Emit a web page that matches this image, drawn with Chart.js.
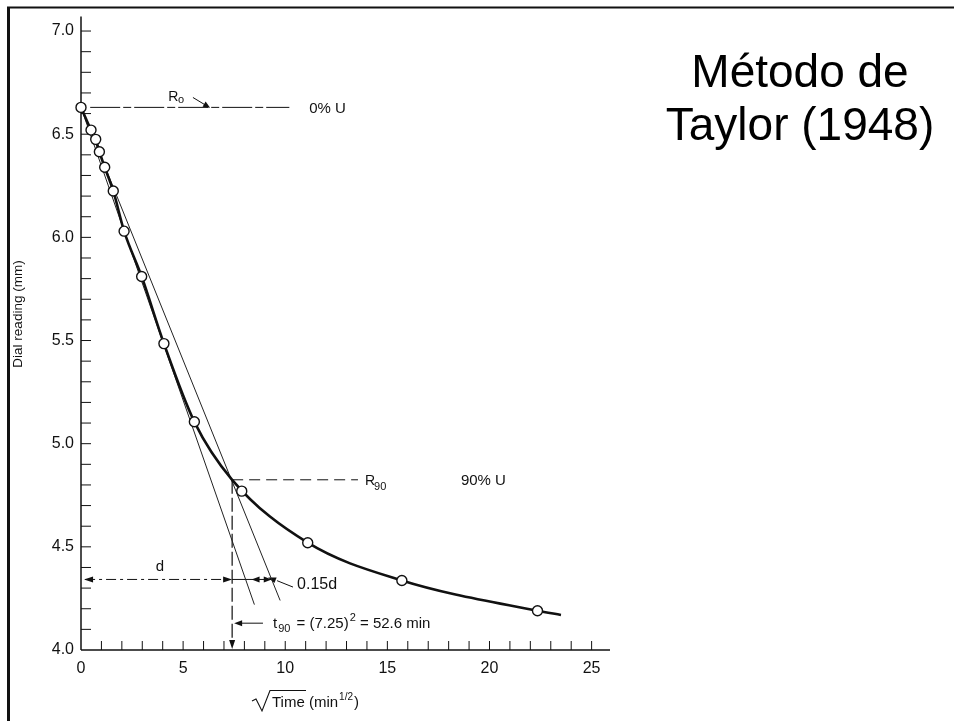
<!DOCTYPE html>
<html><head><meta charset="utf-8">
<script src="https://cdn.jsdelivr.net/npm/chart.js@4/dist/chart.umd.min.js"></script>
<style>html,body{margin:0;padding:0;background:#fff;overflow:hidden}canvas{display:block}</style>
</head><body>
<canvas id="c" width="954" height="721"></canvas>
<script>
// ---- data ----
const sqrtTime    = [0, 0.49, 0.72, 0.90, 1.16, 1.58, 2.11, 2.97, 4.06, 5.55, 7.87, 11.10, 15.71, 22.35];
const dialReading = [6.63, 6.52, 6.475, 6.415, 6.34, 6.225, 6.03, 5.81, 5.485, 5.106, 4.77, 4.52, 4.337, 4.19];
const curveSqrtTime = [0, 0.49, 0.72, 0.90, 1.16, 1.58, 2.11, 2.97, 4.06, 5.55, 7.40, 11.10, 15.71, 22.35, 23.5];
const curveReading  = [6.63, 6.52, 6.475, 6.415, 6.34, 6.225, 6.03, 5.81, 5.485, 5.106, 4.825, 4.52, 4.337, 4.19, 4.17];
const tangentX = [0, 8.49];
const tangentY = [6.63, 4.22];
const offsetX  = [0, 9.75];
const offsetY  = [6.63, 4.24];
const yLabels = [4.0, 4.5, 5.0, 5.5, 6.0, 6.5, 7.0];
const xLabels = [0, 5, 10, 15, 20, 25];
const R0 = 6.63, R90 = 4.825, ROOT_T90 = 7.4, D_LEVEL = 4.342;

const FONT = '"Liberation Sans", Arial, Helvetica, sans-serif';
const INK = '#111';

function pts(xs, ys){ return xs.map((x,i)=>({x:x, y:ys[i]})); }

function arrowHead(ctx, x1, y1, x2, y2, len, wid){
  const a = Math.atan2(y2-y1, x2-x1);
  ctx.save();
  ctx.translate(x2, y2); ctx.rotate(a);
  ctx.beginPath();
  ctx.moveTo(0,0); ctx.lineTo(-len, -wid); ctx.lineTo(-len, wid); ctx.closePath();
  ctx.fill();
  ctx.restore();
}
function line(ctx, x1,y1,x2,y2, w, dash){
  ctx.save();
  ctx.lineWidth = w; ctx.setLineDash(dash || []);
  ctx.beginPath(); ctx.moveTo(x1,y1); ctx.lineTo(x2,y2); ctx.stroke();
  ctx.restore();
}

const decor = {
  id: 'decor',
  beforeDatasetsDraw(chart){
    const ctx = chart.ctx;
    const xs = chart.scales.x, ys = chart.scales.y;
    const px = v => xs.getPixelForValue(v), py = v => ys.getPixelForValue(v);
    const ca = chart.chartArea;
    ctx.save();
    ctx.strokeStyle = INK; ctx.fillStyle = INK;

    // frame (top + left)
    line(ctx, 7, 7.5, 954, 7.5, 2);
    line(ctx, 8.5, 7, 8.5, 721, 3);

    // axes
    line(ctx, ca.left, ca.top, ca.left, ca.bottom, 1.5);
    line(ctx, ca.left, ca.bottom, ca.right, ca.bottom, 1.5);
    for (let k = 41; k <= 70; k++){
      const y = py(k/10);
      line(ctx, ca.left, y, ca.left + 10, y, 1);
    }
    for (let k = 1; k <= 25; k++){
      const x = px(k);
      line(ctx, x, ca.bottom, x, ca.bottom - 9, 1);
    }

    // R0 line and label
    line(ctx, px(0.45), py(R0), px(10.2), py(R0), 1, [30,3,8,3]);
    ctx.font = '14px ' + FONT; ctx.textBaseline = 'alphabetic'; ctx.textAlign = 'left';
    ctx.fillText('R', px(4.27), py(6.663));
    ctx.font = '11px ' + FONT;
    ctx.fillText('o', px(4.75), py(6.653));
    line(ctx, px(5.48), py(6.678), px(6.18), py(6.636), 1);
    arrowHead(ctx, px(5.48), py(6.678), px(6.32), py(6.628), 7, 3);
    ctx.font = '15px ' + FONT;
    ctx.fillText('0% U', px(11.17), py(6.601));

    // R90 line and labels
    line(ctx, px(ROOT_T90), py(R90), px(13.56), py(R90), 1, [11,6]);
    ctx.font = '14px ' + FONT;
    ctx.fillText('R', px(13.9), py(R90) + 5);
    ctx.font = '11px ' + FONT;
    ctx.fillText('90', px(14.35), py(R90) + 10);
    ctx.font = '15px ' + FONT;
    ctx.fillText('90% U', px(18.6), py(R90) + 5);

    // vertical line at sqrt(t90)
    line(ctx, px(ROOT_T90), py(R90), px(ROOT_T90), py(4.0) - 8, 1.2, [14,4]);
    arrowHead(ctx, px(ROOT_T90), py(4.2), px(ROOT_T90), py(4.0) - 1, 9, 3);

    // d arrow
    line(ctx, px(0.2), py(D_LEVEL), px(ROOT_T90), py(D_LEVEL), 1, [10,4,3,4]);
    arrowHead(ctx, px(2), py(D_LEVEL), px(0.15), py(D_LEVEL), 9, 3);
    arrowHead(ctx, px(5), py(D_LEVEL), px(ROOT_T90), py(D_LEVEL), 9, 3);
    ctx.font = '15px ' + FONT; ctx.textAlign = 'center';
    ctx.fillText('d', px(3.87), py(4.385));
    ctx.textAlign = 'left';

    // 0.15d segment
    line(ctx, px(ROOT_T90), py(D_LEVEL), px(9.34), py(D_LEVEL), 1);
    arrowHead(ctx, px(9.3), py(D_LEVEL), px(8.35), py(D_LEVEL), 8, 3);
    arrowHead(ctx, px(8.5), py(D_LEVEL), px(9.34), py(D_LEVEL), 8, 3);
    line(ctx, px(10.38), py(4.305), px(9.6), py(4.336), 1);
    arrowHead(ctx, px(10.38), py(4.305), px(9.16), py(4.352), 8, 3);
    ctx.font = '16px ' + FONT;
    ctx.fillText('0.15d', px(10.58), py(4.295));

    // t90 arrow and text
    line(ctx, px(8.91), py(4.13), px(7.7), py(4.13), 1);
    arrowHead(ctx, px(8.91), py(4.13), px(ROOT_T90) + 2, py(4.13), 8, 3);
    let tx = px(9.4), tb = py(4.105);
    ctx.font = '15px ' + FONT;
    ctx.fillText('t', tx, tb); tx += ctx.measureText('t').width + 1;
    ctx.font = '11px ' + FONT;
    ctx.fillText('90', tx, tb + 4); tx += ctx.measureText('90').width + 2;
    ctx.font = '15px ' + FONT;
    ctx.fillText(' = (7.25)', tx, tb); tx += ctx.measureText(' = (7.25)').width + 1;
    ctx.font = '11px ' + FONT;
    ctx.fillText('2', tx, tb - 7); tx += ctx.measureText('2').width;
    ctx.font = '15px ' + FONT;
    ctx.fillText(' = 52.6 min', tx, tb);

    // y-axis title
    ctx.save();
    ctx.translate(18, 314); ctx.rotate(-Math.PI/2);
    ctx.font = '13.5px ' + FONT; ctx.textAlign = 'center'; ctx.textBaseline = 'middle';
    ctx.fillText('Dial reading (mm)', 0, 0);
    ctx.restore();

    // x-axis title with radical sign
    ctx.save();
    ctx.lineWidth = 1.1;
    ctx.beginPath();
    ctx.moveTo(252, 701); ctx.lineTo(256, 699); ctx.lineTo(262, 711); ctx.lineTo(270, 690.5); ctx.lineTo(306, 690.5);
    ctx.stroke();
    ctx.restore();
    let ax = 272, ab = 707;
    ctx.font = '15px ' + FONT; ctx.textAlign = 'left'; ctx.textBaseline = 'alphabetic';
    ctx.fillText('Time (min', ax, ab); ax += ctx.measureText('Time (min').width + 1;
    ctx.font = '10px ' + FONT;
    ctx.fillText('1/2', ax, ab - 7); ax += ctx.measureText('1/2').width + 1;
    ctx.font = '15px ' + FONT;
    ctx.fillText(')', ax, ab);

    // title
    ctx.font = '46px ' + FONT; ctx.textAlign = 'center';
    ctx.fillStyle = '#000';
    ctx.fillText('Método de', 800, 87);
    ctx.fillText('Taylor (1948)', 800, 140);

    ctx.restore();
  }
};

new Chart(document.getElementById('c'), {
  type: 'scatter',
  data: {
    datasets: [
      { label: 'readings', data: pts(sqrtTime, dialReading), order: 0, showLine: false, clip: false,
        pointRadius: 5, pointBackgroundColor: '#fff', pointBorderColor: INK, pointBorderWidth: 1.4 },
      { label: 'curve', data: pts(curveSqrtTime, curveReading), order: 1, showLine: true,
        borderColor: INK, borderWidth: 2.6, pointRadius: 0, cubicInterpolationMode: 'monotone', fill: false },
      { label: 'tangent', data: pts(tangentX, tangentY), order: 2, showLine: true,
        borderColor: '#222', borderWidth: 1, pointRadius: 0 },
      { label: 'offset', data: pts(offsetX, offsetY), order: 2, showLine: true,
        borderColor: '#222', borderWidth: 1, pointRadius: 0 }
    ]
  },
  options: {
    responsive: false, animation: false, devicePixelRatio: 1,
    layout: { padding: { top: 13, right: 344, left: 0, bottom: 0 } },
    plugins: { legend: { display: false }, tooltip: { enabled: false } },
    scales: {
      x: {
        type: 'linear', min: 0, max: 25.9,
        grid: { display: false, drawTicks: false }, border: { display: false },
        afterBuildTicks: ax => { ax.ticks = xLabels.map(v => ({ value: v })); },
        afterFit: ax => { ax.height = 71; },
        ticks: { autoSkip: false, maxRotation: 0, padding: 9, color: INK,
                 font: { family: FONT, size: 16 }, callback: v => String(v) }
      },
      y: {
        type: 'linear', min: 4.0, max: 7.07,
        grid: { display: false, drawTicks: false }, border: { display: false },
        afterBuildTicks: ax => { ax.ticks = yLabels.map(v => ({ value: v })); },
        afterFit: ax => { ax.width = 81; },
        ticks: { autoSkip: false, padding: 7, color: INK,
                 font: { family: FONT, size: 16 }, callback: v => Number(v).toFixed(1) }
      }
    }
  },
  plugins: [decor]
});
</script>
</body></html>
